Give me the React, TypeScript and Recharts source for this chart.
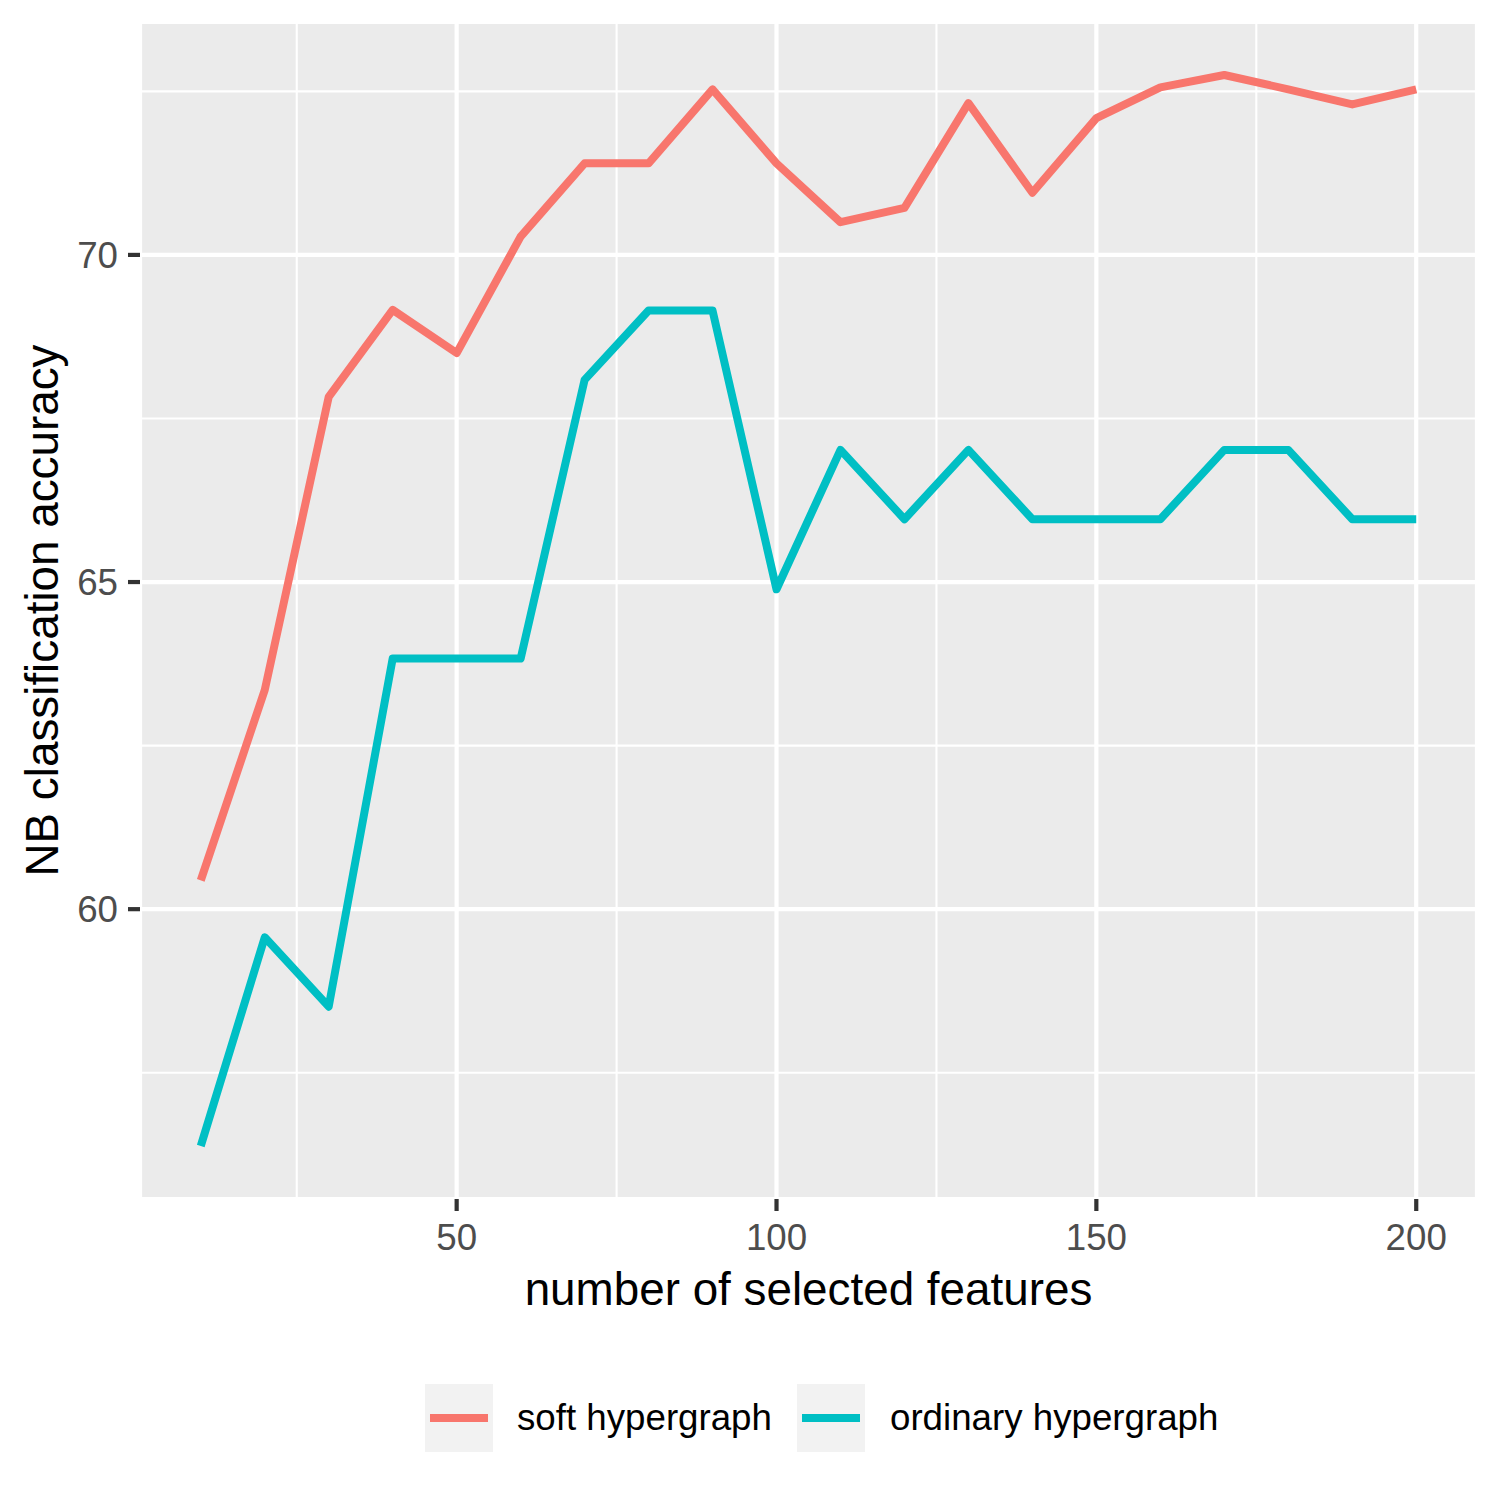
import React from 'react'
import {
  LineChart, Line, XAxis, YAxis, CartesianGrid,
} from 'recharts'

const features = [10, 20, 30, 40, 50, 60, 70, 80, 90, 100, 110, 120, 130, 140, 150, 160, 170, 180, 190, 200]
const softAcc = [60.44, 63.35, 67.83, 69.16, 68.5, 70.28, 71.4, 71.4, 72.53, 71.4, 70.5, 70.72, 72.32, 70.95, 72.09, 72.56, 72.75, 72.53, 72.3, 72.53]
const ordinaryAcc = [56.38, 59.57, 58.51, 63.83, 63.83, 63.83, 68.09, 69.15, 69.15, 64.89, 67.02, 65.96, 67.02, 65.96, 65.96, 65.96, 67.02, 67.02, 65.96, 65.96]

const xTicks = [50, 100, 150, 200]
const xMinor = [25, 75, 125, 175]
const yTicks = [60, 65, 70]
const yMinor = [57.5, 62.5, 67.5, 72.5]

const seriesNames = ['soft hypergraph', 'ordinary hypergraph']
const seriesColors = ['#F8766D', '#00BFC4']

const data = features.map((f, i) => ({ n: f, soft: softAcc[i], ordinary: ordinaryAcc[i] }))

const FONT = '"Liberation Sans", Arial, sans-serif'
const tickStyle = { fontSize: 36.7, fill: '#4D4D4D', fontFamily: FONT }

const YTitle = ({ viewBox }: any) => {
  const cy = viewBox.y + viewBox.height / 2
  return (
    <text x={58} y={cy} transform={`rotate(-90, 58, ${cy})`} textAnchor="middle"
      fontSize={45.8} fill="#000" fontFamily={FONT}>
      NB classification accuracy
    </text>
  )
}

export default function App() {
  return (
    <div style={{ position: 'absolute', left: 0, top: 0, width: 1500, height: 1500, background: '#fff' }}>
      <LineChart width={1500} height={1500} data={data}
        margin={{ top: 22, right: 23, bottom: 171, left: 0 }}
        style={{ fontFamily: FONT }}>
        <CartesianGrid stroke="#FFFFFF" strokeWidth={4.2} fill="#EBEBEB" fillOpacity={1} />
        <CartesianGrid stroke="#FFFFFF" strokeWidth={2.1}
          horizontalValues={yMinor} verticalValues={xMinor} />
        <XAxis dataKey="n" type="number" domain={[0.5, 209.5]} ticks={xTicks} allowDataOverflow
          height={130} axisLine={false} tickSize={12} tickMargin={13}
          tickLine={{ stroke: '#333333', strokeWidth: 4.2 }} tick={tickStyle}
          label={{ value: 'number of selected features', position: 'insideBottom', offset: 24, fontSize: 45.8, fill: '#000', fontFamily: FONT }} />
        <YAxis type="number" domain={[55.57, 73.56]} ticks={yTicks} allowDataOverflow
          width={140} axisLine={false} tickSize={12} tickMargin={10}
          tickLine={{ stroke: '#333333', strokeWidth: 4.2 }} tick={tickStyle}
          label={<YTitle />} />
        <Line dataKey="soft" name={seriesNames[0]} stroke={seriesColors[0]} strokeWidth={8}
          dot={false} activeDot={false} strokeLinejoin="round" isAnimationActive={false} />
        <Line dataKey="ordinary" name={seriesNames[1]} stroke={seriesColors[1]} strokeWidth={8}
          dot={false} activeDot={false} strokeLinejoin="round" isAnimationActive={false} />
      </LineChart>
      <div style={{ position: 'absolute', top: 1384, left: 0, width: 1500, height: 68 }}>
        {seriesNames.map((name, i) => {
          const left = i === 0 ? 425 : 797
          return (
            <div key={name} style={{ position: 'absolute', left, top: 0, height: 68, display: 'flex', alignItems: 'center' }}>
              <svg width={68} height={68} style={{ display: 'block' }}>
                <rect x={0} y={0} width={68} height={68} fill="#F2F2F2" />
                <line x1={5} x2={63} y1={34} y2={34} stroke={seriesColors[i]} strokeWidth={8} />
              </svg>
              <span style={{ marginLeft: i === 0 ? 24 : 25, fontFamily: FONT, fontSize: 36.7, color: '#000', whiteSpace: 'nowrap' }}>
                {name}
              </span>
            </div>
          )
        })}
      </div>
    </div>
  )
}
